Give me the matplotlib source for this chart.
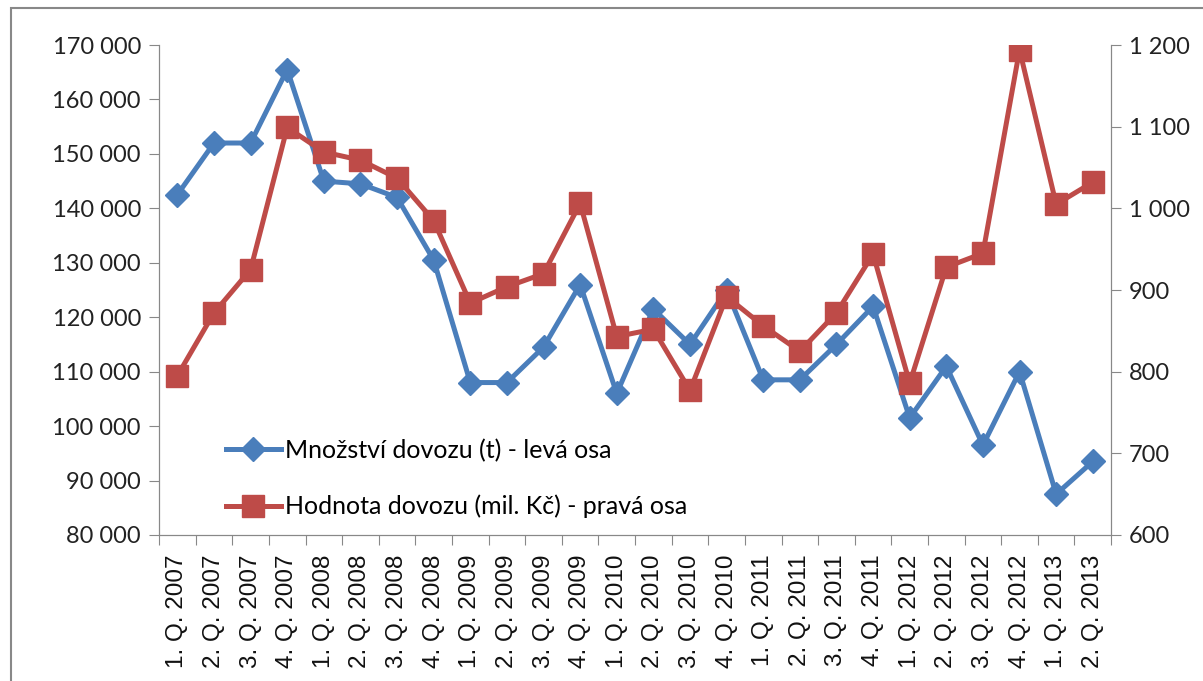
import matplotlib.pyplot as plt
from matplotlib.patches import Rectangle
from matplotlib.ticker import FuncFormatter

quarters = ["1. Q. 2007", "2. Q. 2007", "3. Q. 2007", "4. Q. 2007",
            "1. Q. 2008", "2. Q. 2008", "3. Q. 2008", "4. Q. 2008",
            "1. Q. 2009", "2. Q. 2009", "3. Q. 2009", "4. Q. 2009",
            "1. Q. 2010", "2. Q. 2010", "3. Q. 2010", "4. Q. 2010",
            "1. Q. 2011", "2. Q. 2011", "3. Q. 2011", "4. Q. 2011",
            "1. Q. 2012", "2. Q. 2012", "3. Q. 2012", "4. Q. 2012",
            "1. Q. 2013", "2. Q. 2013"]

mnozstvi = [142500, 152000, 152000, 165500, 145000, 144500, 142000, 130500,
            108000, 108000, 114500, 126000, 106000, 121500, 115000, 125000,
            108500, 108500, 115000, 122000, 101500, 111000, 96500, 110000,
            87500, 93500]

hodnota = [795, 872, 925, 1099, 1069, 1059, 1037, 985,
           884, 904, 920, 1006, 843, 852, 777, 892,
           856, 825, 872, 944, 786, 928, 945, 1194,
           1005, 1032]

blue = "#4a7ebb"
red = "#be4b48"

plt.rcParams['font.family'] = ['Lato', 'DejaVu Sans']

fig = plt.figure(figsize=(12.03, 6.81), dpi=100)
ax = fig.add_axes([0.1322, 0.2144, 0.7914, 0.7195])
ax2 = ax.twinx()

x = range(len(quarters))
ax.plot(x, mnozstvi, color=blue, lw=3.6, marker='D', ms=12.5, label="Množství dovozu (t) - levá osa")
ax2.plot(x, hodnota, color=red, lw=3.6, marker='s', ms=15.5, label="Hodnota dovozu (mil. Kč) - pravá osa")

ax.set_ylim(80000, 170000)
ax.set_yticks(range(80000, 170001, 10000))
ax2.set_ylim(600, 1200)
ax2.set_yticks(range(600, 1201, 100))
fmt = FuncFormatter(lambda v, p: f"{int(v):,}".replace(",", " "))
ax.yaxis.set_major_formatter(fmt)
ax2.yaxis.set_major_formatter(fmt)

# category labels sit between the tick marks
ax.set_xlim(-0.5, len(quarters) - 0.5)
ax.set_xticks([i - 0.5 for i in range(len(quarters) + 1)])
ax.set_xticklabels([])
ax.set_xticks(list(x), minor=True)
ax.set_xticklabels(quarters, minor=True, rotation=90, fontsize=17.5, family='Liberation Sans')
ax.tick_params(axis='x', which='major', length=7, color='#888888')
ax.tick_params(axis='x', which='minor', length=0, pad=14)
ax.tick_params(axis='y', labelsize=17, length=7, color='#888888', colors='#222222', pad=6)
ax2.tick_params(axis='y', labelsize=17, length=7, color='#888888', colors='#222222', pad=6)
for a in (ax, ax2):
    a.spines['top'].set_visible(False)
    for s in ('left', 'right', 'bottom'):
        a.spines[s].set_color('#888888')
ax.tick_params(axis='x', colors='#888888', labelcolor='#111111', which='both')

h1, l1 = ax.get_legend_handles_labels()
h2, l2 = ax2.get_legend_handles_labels()
leg = ax2.legend(h1 + h2, l1 + l2, loc='center left', bbox_to_anchor=(0.0465, 0.115),
                 frameon=False, fontsize=18, handlelength=2.2, labelspacing=1.3,
                 handletextpad=0.15)

fig.patches.append(Rectangle((0.009, -0.01), 1.2, 0.998, transform=fig.transFigure,
                             fill=False, edgecolor='#888888', lw=1.5))

fig.savefig("out.png", dpi=100)
